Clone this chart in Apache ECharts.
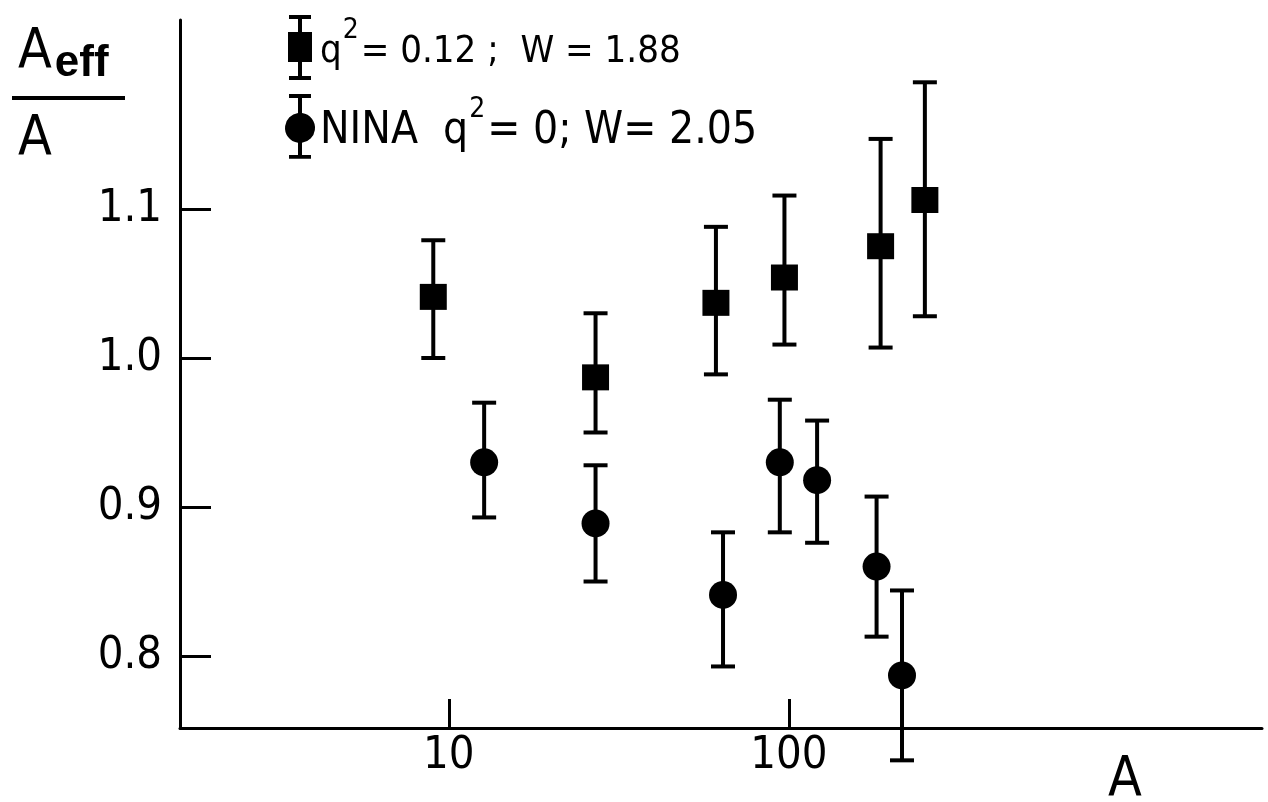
<!DOCTYPE html>
<html>
<head>
<meta charset="utf-8">
<title>Aeff / A</title>
<script src="https://cdn.jsdelivr.net/npm/echarts@6.0.0/dist/echarts.min.js"></script>
<style>
html,body{margin:0;padding:0;background:#fff;}
#main{width:1268px;height:802px;}
</style>
</head>
<body>
<div id="main"></div>
<script>
// q2=0.12 ; W=1.88 (squares)
var sqA    = [9, 27, 61, 97, 186, 251];
var sqVal  = [1.041, 0.987, 1.037, 1.054, 1.075, 1.106];
var sqLow  = [1.000, 0.950, 0.989, 1.009, 1.007, 1.028];
var sqHigh = [1.079, 1.030, 1.088, 1.109, 1.147, 1.185];

// NINA q2=0 ; W=2.05 (circles)
var ninaA    = [12.7, 27, 64, 94, 121, 181, 215];
var ninaVal  = [0.930, 0.889, 0.841, 0.930, 0.918, 0.860, 0.787];
var ninaLow  = [0.893, 0.850, 0.793, 0.883, 0.876, 0.813, 0.730];
var ninaHigh = [0.970, 0.928, 0.883, 0.972, 0.958, 0.907, 0.844];

// axes
var xTicks = [10, 100];
var yTicks = [0.8, 0.9, 1.0, 1.1];
var xMin = 1.62, xMax = 2460;
var yMin = 0.7517, yMax = 1.2268;

var FONT = "'Liberation Sans Narrow', 'DejaVu Sans Condensed', 'Liberation Sans', sans-serif";
var INK = '#000';

function lg(v){ return Math.log(v) / Math.LN10; }

//点数据
function points(a, v){
    return a.map(function(x, i){ return [lg(x), v[i]]; });
}
//误差棒数据
function bars(a, lo, hi){
    return a.map(function(x, i){ return [lg(x), lo[i], hi[i]]; });
}

function renderBar(params, api){
    var x = api.value(0);
    var lo = api.coord([x, api.value(1)]);
    var hi = api.coord([x, api.value(2)]);
    var half = 12;
    var style = {stroke: INK, lineWidth: 4};
    return {
        type: 'group',
        children: [
            {type: 'line', shape: {x1: hi[0], y1: hi[1], x2: lo[0], y2: lo[1]}, style: style},
            {type: 'line', shape: {x1: hi[0] - half, y1: hi[1], x2: hi[0] + half, y2: hi[1]}, style: style},
            {type: 'line', shape: {x1: lo[0] - half, y1: lo[1], x2: lo[0] + half, y2: lo[1]}, style: style}
        ]
    };
}

//图例图标：误差棒 + 方块 / 圆点
var sqIcon = 'path://M1,0H23V4H14V17H24V47H14V61H23V65H1V61H10V47H0V17H10V4H1Z';
var dotIcon = 'path://M4,0H26V4H17V19.13A15,15 0 0 1 17,48.87V61H26V65H4V61H13V48.87A15,15 0 0 1 13,19.13V4H4Z';

var chart = echarts.init(document.getElementById('main'));
var option = {
    backgroundColor: '#fff',
    animation: false,
    grid: {left: 180, right: 6, top: 20, bottom: 74, outerBoundsMode: 'none'},
    legend: {
        orient: 'vertical',
        left: 285,
        top: 15,
        padding: 0,
        itemWidth: 30,
        itemHeight: 65,
        itemGap: 14,
        data: [
            {name: 'sq', icon: sqIcon},
            {name: 'nina', icon: dotIcon}
        ],
        formatter: function(name){
            if (name === 'sq') return '{u|q}{s|2}{u|= 0.12 ;  W = 1.88}';
            return '{t|NINA  q}{s|2}{t|= 0; W= 2.05}';
        },
        textStyle: {
            rich: {
                t: {fontSize: 44, fontFamily: FONT, color: INK, padding: [10, 0, 0, 0]},
                u: {fontSize: 38, fontFamily: FONT, color: INK, padding: [10, 0, 0, 0]},
                s: {fontSize: 28, fontFamily: FONT, color: INK, padding: [0, 2, 34, 1]}
            }
        }
    },
    xAxis: {
        type: 'value',
        min: lg(xMin),
        max: lg(xMax),
        name: 'A',
        nameLocation: 'end',
        nameGap: -154,
        nameTextStyle: {fontSize: 55, fontFamily: FONT, color: INK, align: 'left', verticalAlign: 'top', padding: [25, 0, 0, 0]},
        axisLine: {lineStyle: {color: INK, width: 3}},
        axisTick: {inside: true, length: 29, lineStyle: {color: INK, width: 3}, customValues: xTicks.map(lg)},
        axisLabel: {
            customValues: xTicks.map(lg),
            margin: 6,
            fontSize: 45,
            fontFamily: FONT,
            color: INK,
            formatter: function(v){ return String(Math.round(Math.pow(10, v))); }
        },
        splitLine: {show: false}
    },
    yAxis: {
        type: 'value',
        min: yMin,
        max: yMax,
        axisLine: {lineStyle: {color: INK, width: 3}},
        axisTick: {inside: true, length: 31, lineStyle: {color: INK, width: 3}, customValues: yTicks},
        axisLabel: {
            customValues: yTicks,
            margin: 18,
            fontSize: 45,
            fontFamily: FONT,
            color: INK,
            formatter: function(v){ return v.toFixed(1); }
        },
        splitLine: {show: false}
    },
    graphic: [
        //纵轴标题 Aeff / A
        {type: 'text', left: 18, top: 25, style: {
            text: '{a|A}{e|eff}',
            rich: {
                a: {fontSize: 55, fontFamily: FONT, fill: INK},
                e: {fontSize: 44, fontFamily: "'Liberation Sans', sans-serif", fontWeight: 'bold', fill: INK, padding: [22, 0, 0, 3]}
            }
        }},
        {type: 'rect', left: 12, top: 96, shape: {width: 113, height: 4}, style: {fill: INK}},
        {type: 'text', left: 18, top: 112, style: {text: 'A', fontSize: 55, fontFamily: FONT, fill: INK}}
    ],
    series: [
        {
            type: 'custom',
            name: 'sqBars',
            renderItem: renderBar,
            data: bars(sqA, sqLow, sqHigh),
            z: 1
        },
        {
            type: 'custom',
            name: 'ninaBars',
            renderItem: renderBar,
            data: bars(ninaA, ninaLow, ninaHigh),
            z: 1
        },
        {
            type: 'scatter',
            name: 'sq',
            symbol: 'rect',
            symbolSize: [27, 26],
            itemStyle: {color: INK, opacity: 1},
            data: points(sqA, sqVal),
            z: 3
        },
        {
            type: 'scatter',
            name: 'nina',
            symbol: 'circle',
            symbolSize: 28,
            itemStyle: {color: INK, opacity: 1},
            data: points(ninaA, ninaVal),
            z: 3
        }
    ]
};
chart.setOption(option);
</script>
</body>
</html>
